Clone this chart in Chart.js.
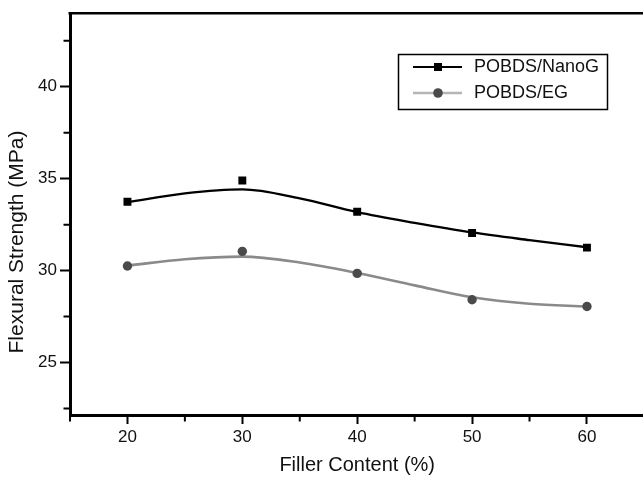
<!DOCTYPE html>
<html><head><meta charset="utf-8">
<script src="https://cdn.jsdelivr.net/npm/chart.js@4.4.1/dist/chart.umd.min.js"></script>
<style>html,body{margin:0;padding:0;background:#fff;overflow:hidden;width:643px;height:479px}</style>
</head><body>
<canvas id="c" width="650" height="479" style="display:block;width:650px;height:479px"></canvas>
<script>
// ---- data ----
const categories = [20, 30, 40, 50, 60];
const nanoGValues = [33.75, 34.9, 33.2, 32.05, 31.25];
const egValues = [30.25, 31.05, 29.85, 28.42, 28.05];
// fitted curves
const fitX = [20, 25, 30, 35, 40, 45, 50, 55, 60];
const nanoGFit = [33.72, 34.2, 34.42, 33.93, 33.18, 32.6, 32.08, 31.66, 31.27];
const egFit = [30.27, 30.62, 30.76, 30.44, 29.87, 29.2, 28.55, 28.2, 28.05];
const xTicks = [20, 30, 40, 50, 60];
const yTicks = [25, 30, 35, 40];
const xMinorTicks = [15, 25, 35, 45, 55];
const yMinorTicks = [22.5, 27.5, 32.5, 37.5, 42.5];
const seriesNames = ['POBDS/NanoG', 'POBDS/EG'];
const xTitle = 'Filler Content (%)';
const yTitle = 'Flexural Strength (MPa)';

const FONT = '"Liberation Sans", Arial, Helvetica, sans-serif';
const nanoColor = '#000000';
const egLine = '#8a8a8a';
const egPoint = '#4a4a4a';

const pts = (xs, ys) => xs.map((x, i) => ({x: x, y: ys[i]}));

const decor = {
  id: 'decor',
  afterDraw(chart) {
    const ctx = chart.ctx;
    const ca = chart.chartArea;
    const xs = chart.scales.x, ys = chart.scales.y;
    ctx.save();
    // top frame line
    ctx.strokeStyle = '#000';
    ctx.lineWidth = 2.5;
    ctx.beginPath();
    ctx.moveTo(ca.left - 1.5, ca.top);
    ctx.lineTo(chart.width, ca.top);
    ctx.stroke();
    // minor ticks
    ctx.lineWidth = 2;
    ctx.beginPath();
    xMinorTicks.forEach(v => {
      const px = xs.getPixelForValue(v);
      ctx.moveTo(px, ca.bottom);
      ctx.lineTo(px, ca.bottom + 6.5);
    });
    yMinorTicks.forEach(v => {
      const py = ys.getPixelForValue(v);
      ctx.moveTo(ca.left, py);
      ctx.lineTo(ca.left - 6.5, py);
    });
    ctx.stroke();
    // y title
    ctx.fillStyle = '#111';
    ctx.font = '21px ' + FONT;
    ctx.textAlign = 'center';
    ctx.textBaseline = 'middle';
    ctx.translate(17, 242);
    ctx.rotate(-Math.PI / 2);
    ctx.fillText(yTitle, 0, 0);
    ctx.restore();

    // legend
    ctx.save();
    ctx.strokeStyle = '#000';
    ctx.lineWidth = 1.5;
    ctx.strokeRect(398.5, 54.5, 209, 55);
    // row 1
    ctx.strokeStyle = nanoColor;
    ctx.lineWidth = 2.2;
    ctx.beginPath(); ctx.moveTo(413, 67); ctx.lineTo(462, 67); ctx.stroke();
    ctx.fillStyle = nanoColor;
    ctx.fillRect(434, 63, 8, 8);
    // row 2
    ctx.strokeStyle = '#b5b5b5';
    ctx.lineWidth = 2.5;
    ctx.beginPath(); ctx.moveTo(413, 93); ctx.lineTo(462, 93); ctx.stroke();
    ctx.fillStyle = egPoint;
    ctx.beginPath(); ctx.arc(438, 93, 4.8, 0, Math.PI * 2); ctx.fill();
    ctx.fillStyle = '#111';
    ctx.font = '18px ' + FONT;
    ctx.textAlign = 'left';
    ctx.textBaseline = 'middle';
    ctx.fillText(seriesNames[0], 474, 67);
    ctx.fillText(seriesNames[1], 474, 93);
    ctx.restore();
  }
};

new Chart(document.getElementById('c'), {
  type: 'line',
  data: {
    datasets: [
      {label: seriesNames[0] + ' points', data: pts(categories, nanoGValues), showLine: false,
       pointStyle: 'rect', pointRadius: 5.6, pointBackgroundColor: nanoColor, pointBorderColor: nanoColor,
       pointBorderWidth: 0, order: 0},
      {label: seriesNames[1] + ' points', data: pts(categories, egValues), showLine: false,
       pointStyle: 'circle', pointRadius: 4.7, pointBackgroundColor: egPoint, pointBorderColor: egPoint,
       pointBorderWidth: 0, order: 0},
      {label: seriesNames[0], data: pts(fitX, nanoGFit), borderColor: nanoColor, borderWidth: 2.4,
       pointRadius: 0, cubicInterpolationMode: 'monotone', fill: false, order: 1},
      {label: seriesNames[1], data: pts(fitX, egFit), borderColor: egLine, borderWidth: 2.6,
       pointRadius: 0, cubicInterpolationMode: 'monotone', fill: false, order: 1}
    ]
  },
  options: {
    responsive: false,
    animation: false,
    devicePixelRatio: 1,
    layout: {padding: {top: 10, right: 3, left: 0, bottom: 0}},
    plugins: {legend: {display: false}, tooltip: {enabled: false}},
    scales: {
      x: {
        type: 'linear', min: 15, max: 65,
        afterBuildTicks: s => { s.ticks = xTicks.map(v => ({value: v})); },
        afterFit: s => { s.height = 64; },
        border: {display: true, color: '#000', width: 3},
        grid: {display: true, drawOnChartArea: false, drawTicks: true, tickLength: 9, tickWidth: 2, tickColor: '#000'},
        ticks: {color: '#111', font: {family: FONT, size: 17}, padding: 3, maxRotation: 0},
        title: {display: true, text: xTitle, color: '#111', font: {family: FONT, size: 20}, padding: {top: 0, bottom: 2}}
      },
      y: {
        type: 'linear', min: 22.15, max: 44,
        afterBuildTicks: s => { s.ticks = yTicks.map(v => ({value: v})); },
        afterFit: s => { s.width = 70; },
        border: {display: true, color: '#000', width: 3},
        grid: {display: true, drawOnChartArea: false, drawTicks: true, tickLength: 10, tickWidth: 2, tickColor: '#000'},
        ticks: {color: '#111', font: {family: FONT, size: 17}, padding: 3}
      }
    }
  },
  plugins: [decor]
});
</script>
</body></html>
